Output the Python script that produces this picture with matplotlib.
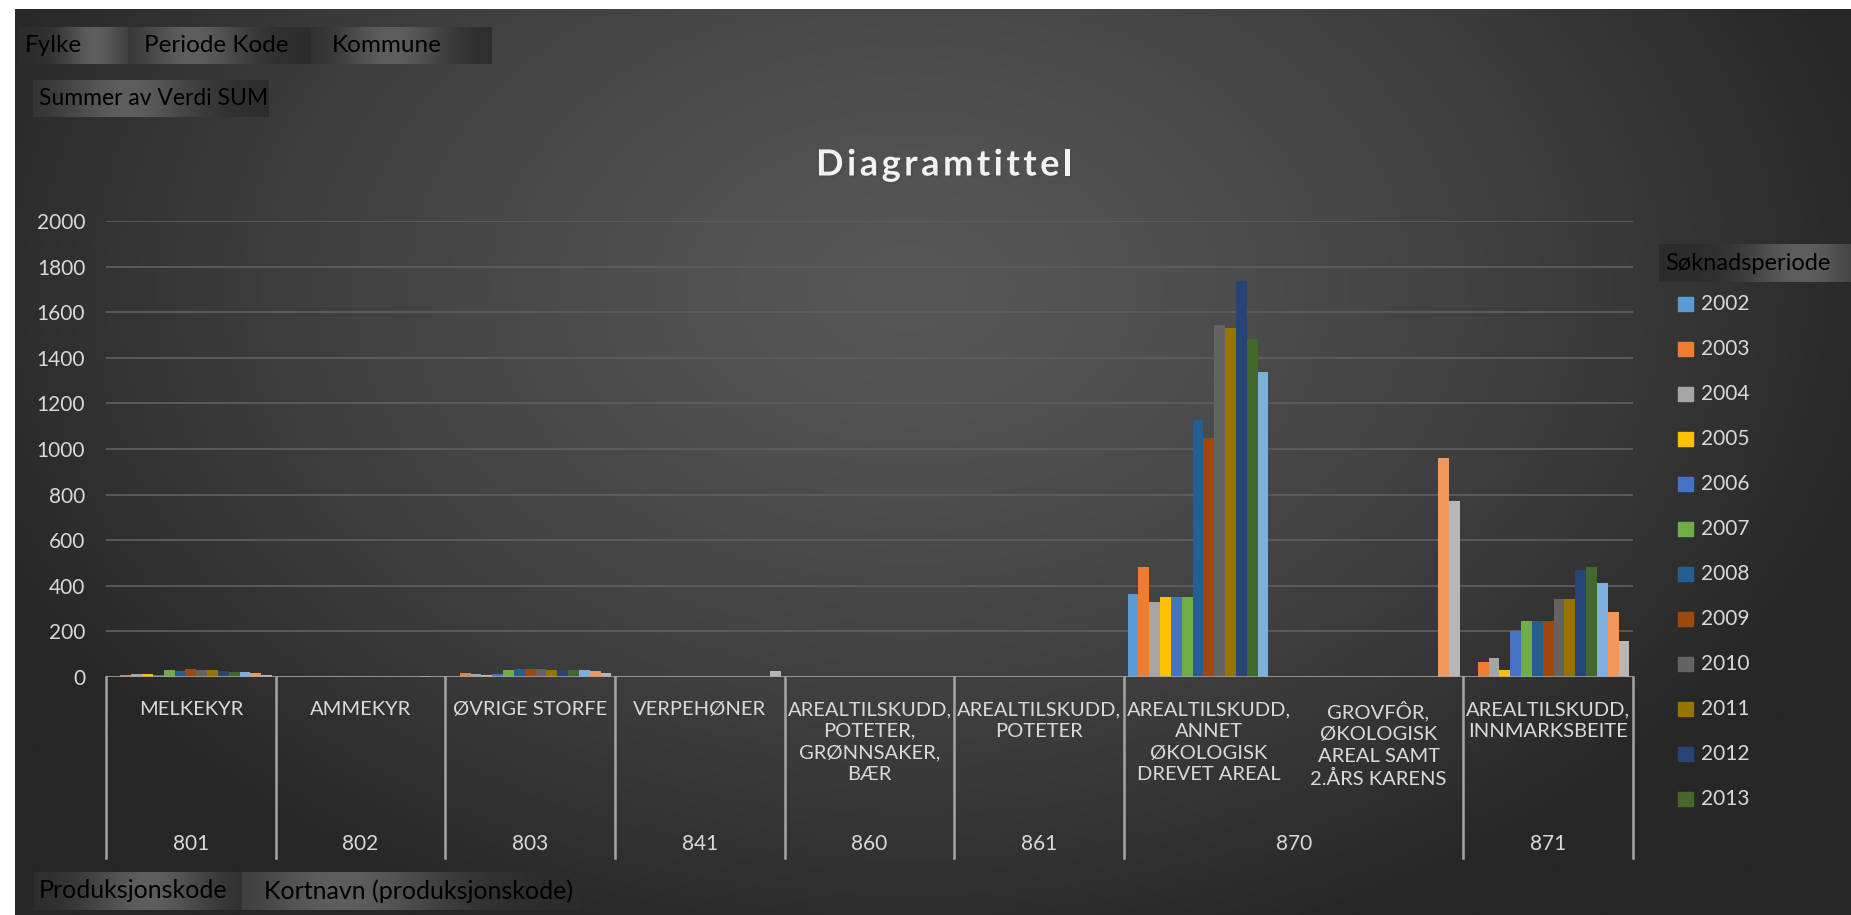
import numpy as np
import matplotlib.pyplot as plt
import matplotlib.patheffects as pe
from matplotlib.patches import Rectangle
from matplotlib.transforms import blended_transform_factory

plt.rcParams['font.family'] = ['Lato', 'DejaVu Sans']

# data
years = ['2002', '2003', '2004', '2005', '2006', '2007', '2008',
         '2009', '2010', '2011', '2012', '2013', '2014', '2015', '2016']
names = ['MELKEKYR', 'AMMEKYR', 'ØVRIGE STORFE', 'VERPEHØNER',
         'AREALTILSKUDD,\nPOTETER,\nGRØNNSAKER,\nBÆR',
         'AREALTILSKUDD,\nPOTETER',
         'AREALTILSKUDD,\nANNET\nØKOLOGISK\nDREVET AREAL',
         'GROVFÔR,\nØKOLOGISK\nAREAL SAMT\n2.ÅRS KARENS',
         'AREALTILSKUDD,\nINNMARKSBEITE']
codes = ['801', '802', '803', '841', '860', '861', '870', '871']
code_span = [1, 1, 1, 1, 1, 1, 2, 1]

v2002 = [0, 0, 0, 0, 0, 0, 364, 0, 0]
v2003 = [7, 0, 17, 0, 0, 0, 482, 0, 64]
v2004 = [12, 0, 14, 0, 1, 0, 329, 0, 83]
v2005 = [12, 0, 10, 0, 1, 0, 351, 0, 30]
v2006 = [7, 0, 14, 0, 1, 0, 351, 0, 202]
v2007 = [32, 0, 32, 0, 0, 1, 351, 0, 246]
v2008 = [25, 0, 37, 0, 0, 1, 1127, 0, 246]
v2009 = [34, 0, 37, 0, 0, 0, 1048, 0, 246]
v2010 = [29, 0, 37, 0, 0, 0, 1544, 0, 343]
v2011 = [29, 0, 32, 0, 0, 0, 1531, 0, 343]
v2012 = [25, 0, 32, 0, 0, 0, 1737, 0, 469]
v2013 = [20, 0, 32, 0, 0, 0, 1482, 0, 482]
v2014 = [20, 0, 32, 0, 0, 1, 1337, 0, 412]
v2015 = [16, 4, 28, 0, 0, 0, 0, 960, 285]
v2016 = [7, 0, 19, 25, 0, 0, 0, 770, 158]
series = [v2002, v2003, v2004, v2005, v2006, v2007, v2008, v2009,
          v2010, v2011, v2012, v2013, v2014, v2015, v2016]

colors = ['#5B9BD5', '#ED7D31', '#A5A5A5', '#FFC000', '#4472C4', '#70AD47',
          '#255E91', '#9E480E', '#636363', '#997300', '#264478', '#43682B',
          '#7CAFDD', '#F1975A', '#B7B7B7']

W, H = 1851, 915
fig = plt.figure(figsize=(W / 100, H / 100), dpi=100, facecolor='white')

# background layer in pixel coords
bg = fig.add_axes([0, 0, 1, 1])
bg.axis('off')

yy, xx = np.mgrid[0:H:4, 0:W:4]
r = np.sqrt(((xx - 900) / 1000.0) ** 2 + ((yy - 280) / 700.0) ** 2)
g = 0x56 - (0x56 - 0x27) * np.clip(r, 0, 1) ** 1.4
img = np.dstack([g, g, g]) / 255.0
bg.imshow(img, extent=[15, W, H, 9], aspect='auto', interpolation='bilinear', zorder=0)


def button(x0, x1, y0, y1, label, tx, peak=0.6, size=17.5):
    t = np.linspace(0, 1, 200)
    v = 0x2c + (0x5e - 0x2c) * np.exp(-((t - peak) / 0.3) ** 2)
    v = np.tile(v, (20, 1)) / 255.0
    bg.imshow(np.dstack([v, v, v]), extent=[x0, x1, y1, y0], aspect='auto',
              interpolation='bilinear', zorder=1)
    bg.text(tx, (y0 + y1) / 2, label, color='black', fontsize=size,
            ha='left', va='center', zorder=2)


button(18, 128, 27, 64, 'Fylke', 25, peak=0.7)
button(128, 311, 27, 64, 'Periode Kode', 144, peak=0.35)
button(311, 491, 27, 64, 'Kommune', 332, peak=0.45)
button(33, 268, 80, 117, 'Summer av Verdi SUM', 39, peak=0.4, size=16.5)
button(33, 242, 872, 910, 'Produksjonskode', 39, peak=0.55, size=18)
button(242, 578, 872, 910, 'Kortnavn (produksjonskode)', 264, peak=0.3, size=18)
button(1659, W, 244, 282, 'Søknadsperiode', 1665, peak=0.75, size=17)

# legend (only the entries Excel had room for)
for k in range(12):
    y = 303.6 + k * 45
    bg.add_patch(Rectangle((1678, y - 7), 15, 14, color=colors[k], zorder=2))
    bg.text(1701, y, years[k], color='#d9d9d9', fontsize=15, va='center', zorder=2)

bg.set_xlim(0, W)
bg.set_ylim(H, 0)

# title, letter-spaced
title = 'Diagramtittel'
fig.canvas.draw()
rend = fig.canvas.get_renderer()
widths = []
for ch in title:
    t = bg.text(0, 0, ch, fontsize=26, fontweight='bold')
    widths.append(t.get_window_extent(rend).width)
    t.remove()
spacing = 3.5
total = sum(widths) + spacing * (len(title) - 1)
cx = 944 - total / 2
for ch, w in zip(title, widths):
    bg.text(cx, 165, ch, fontsize=26, fontweight='bold', color='#f2f2f2',
            ha='left', va='center', zorder=2,
            path_effects=[pe.withSimplePatchShadow(offset=(1.5, -1.5), alpha=0.5)])
    cx += w + spacing

# chart
x_left, x_right, y_base, y_top = 106, 1633, 677, 221
ax = fig.add_axes([x_left / W, (H - y_base) / H, (x_right - x_left) / W, (y_base - y_top) / H])
ax.patch.set_alpha(0)

n = len(series)
gap = 0.65
bw = 1.0 / (n + gap)
xc = np.arange(len(names))
for k, vals in enumerate(series):
    off = -0.5 + bw * gap / 2 + bw * (k + 0.5)
    ax.bar(xc + off, vals, width=bw, color=colors[k], linewidth=0, zorder=3)

ax.set_xlim(-0.5, len(names) - 0.5)
ax.set_ylim(0, 2000)
ax.set_yticks(range(0, 2001, 200))
ax.yaxis.grid(True, color='#5d5d5d', lw=1.3)
ax.set_axisbelow(True)
for s in ax.spines.values():
    s.set_visible(False)
ax.set_xticks([])
ax.tick_params(axis='y', length=0, pad=15, labelsize=15, labelcolor='#d9d9d9')
ax.axhline(0, color='#a6a6a6', lw=1.8, zorder=4)

trans = blended_transform_factory(ax.transData, ax.transAxes)
ph = y_base - y_top


def fy(py):
    return (y_base - py) / ph


bounds = [-0.5]
pos = -0.5
for s in code_span:
    pos += s
    bounds.append(pos)
for b in bounds:
    ax.plot([b, b], [0, fy(858)], transform=trans, color='#a6a6a6', lw=1.8,
            clip_on=False, zorder=4)

for i, nm in enumerate(names):
    ax.text(i, fy(701), nm, transform=trans, ha='center', va='top', fontsize=14.5,
            color='#d9d9d9', linespacing=1.34, clip_on=False)

start = 0
for c, s in zip(codes, code_span):
    ax.text(start + (s - 1) / 2, fy(844), c, transform=trans, ha='center', va='center',
            fontsize=15, color='#d9d9d9', clip_on=False)
    start += s

fig.savefig('out.png', dpi=100, facecolor='white')
